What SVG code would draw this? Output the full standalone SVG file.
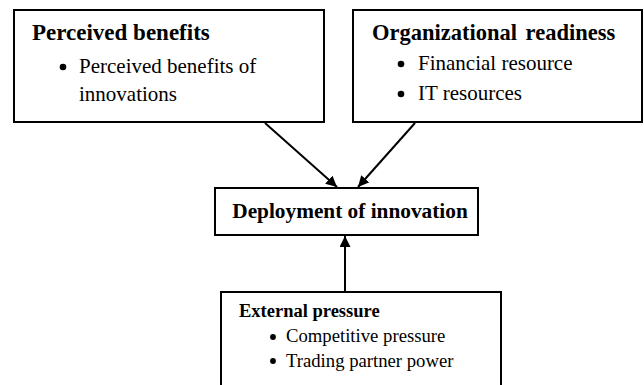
<svg xmlns="http://www.w3.org/2000/svg" width="644" height="385" viewBox="0 0 644 385">
  <defs>
    <marker id="arrow" viewBox="0 0 10 10" refX="10" refY="5" markerWidth="11" markerHeight="11" markerUnits="userSpaceOnUse" orient="auto">
      <path d="M0,0 L10,5 L0,10 z" fill="#000"/>
    </marker>
    <style>
      .box { fill: #fff; stroke: #000; stroke-width: 2; }
      .title { font-family: "Liberation Serif", "Times New Roman", serif; font-weight: bold; fill: #000; }
      .item { font-family: "Liberation Serif", "Times New Roman", serif; fill: #000; }
      .dot { fill: #000; }
      .conn { stroke: #000; stroke-width: 2; fill: none; marker-end: url(#arrow); }
    </style>
  </defs>
  <rect width="644" height="385" fill="#fff"/>

  <!-- upper left factor -->
  <g id="perceived-benefits">
    <rect class="box" x="14" y="10" width="310" height="112"/>
    <text class="title" x="32" y="40" font-size="23">Perceived benefits</text>
    <circle class="dot" cx="63" cy="67" r="3.3"/>
    <text class="item" x="79" y="73" font-size="21">Perceived benefits of</text>
    <text class="item" x="79" y="101" font-size="21">innovations</text>
  </g>

  <!-- upper right factor -->
  <g id="organizational-readiness">
    <rect class="box" x="353" y="10" width="289" height="112"/>
    <text class="title" x="372" y="40" font-size="22.5" word-spacing="3">Organizational readiness</text>
    <circle class="dot" cx="401" cy="64" r="3.3"/>
    <text class="item" x="418" y="70" font-size="21">Financial resource</text>
    <circle class="dot" cx="401" cy="94" r="3.3"/>
    <text class="item" x="418" y="100" font-size="21">IT resources</text>
  </g>

  <!-- outcome -->
  <g id="deployment">
    <rect class="box" x="215" y="188" width="263" height="47"/>
    <text class="title" x="350" y="218" font-size="21.3" text-anchor="middle">Deployment of innovation</text>
  </g>

  <!-- lower factor, runs off the bottom edge -->
  <g id="external-pressure">
    <rect class="box" x="221" y="292" width="280" height="100"/>
    <text class="title" x="239" y="317" font-size="18.5">External pressure</text>
    <circle class="dot" cx="273" cy="337" r="2.9"/>
    <text class="item" x="286" y="342" font-size="18.7">Competitive pressure</text>
    <circle class="dot" cx="273" cy="361" r="2.9"/>
    <text class="item" x="286" y="367" font-size="18.7">Trading partner power</text>
  </g>

  <g id="connectors">
    <line class="conn" x1="265" y1="123" x2="337" y2="187"/>
    <line class="conn" x1="415" y1="123" x2="358" y2="187"/>
    <line class="conn" x1="345" y1="291" x2="345" y2="236"/>
  </g>
</svg>
